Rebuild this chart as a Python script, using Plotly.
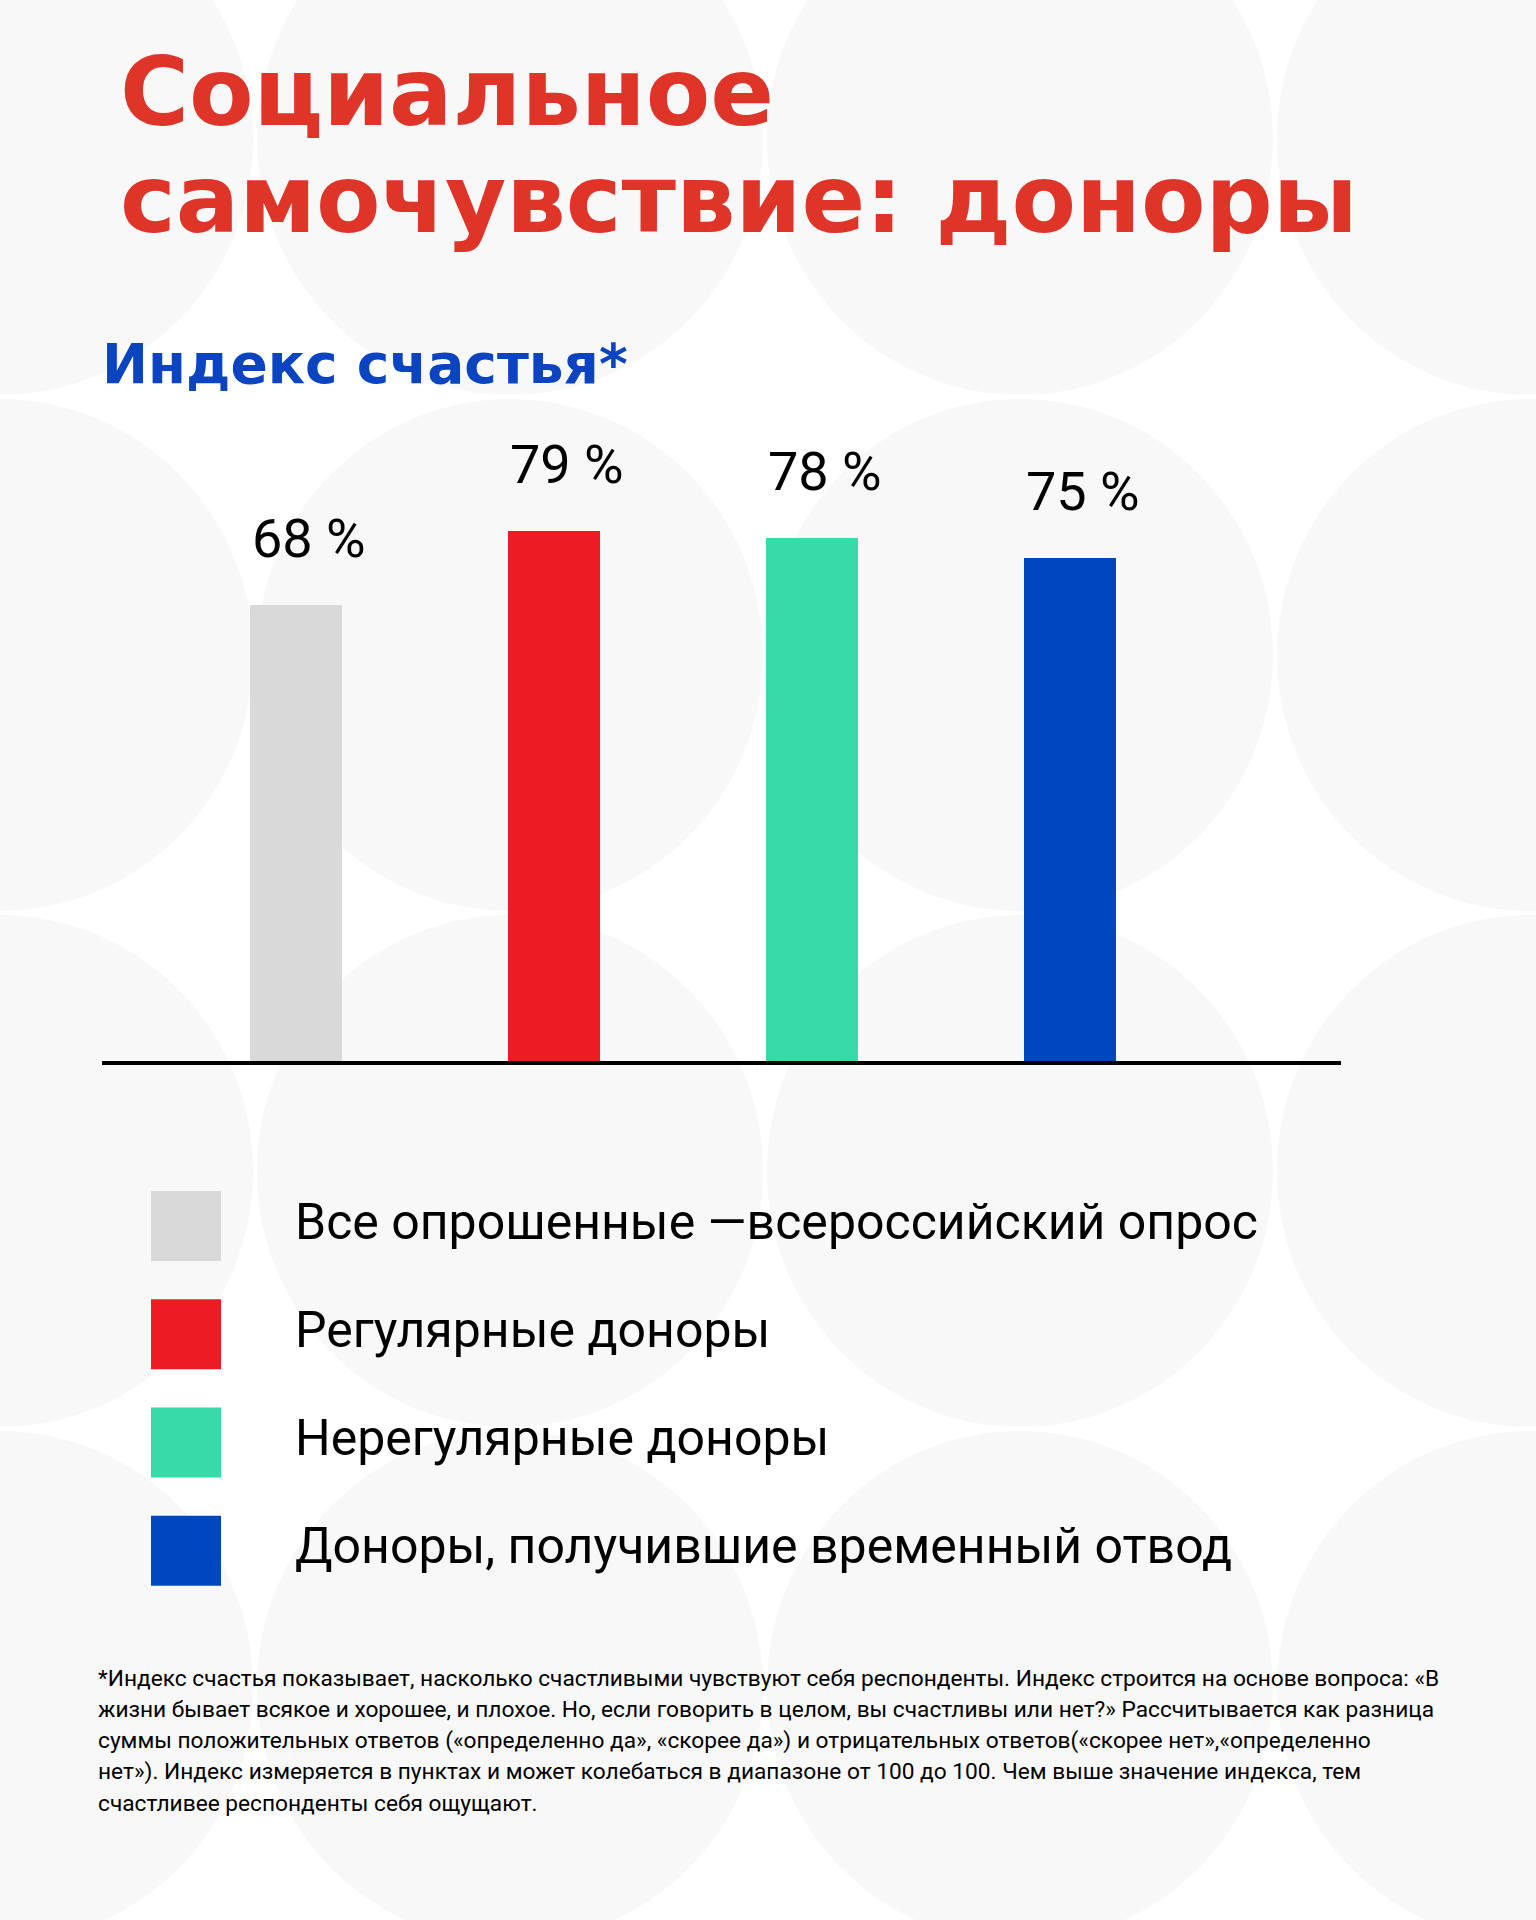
import plotly.graph_objects as go

# --- data ---
groups = [
    "Все опрошенные —всероссийский опрос",
    "Регулярные доноры",
    "Нерегулярные доноры",
    "Доноры, получившие временный отвод",
]
happiness_index = [68, 79, 78, 75]
bar_colors = ["#D9D9D9", "#ED1C24", "#36DBA8", "#0047BF"]

title_lines = ["Социальное", "самочувствие: доноры"]
subtitle = "Индекс счастья*"
footnote_lines = [
    "*Индекс счастья показывает, насколько счастливыми чувствуют себя респонденты. Индекс строится на основе вопроса: «В",
    "жизни бывает всякое и хорошее, и плохое. Но, если говорить в целом, вы счастливы или нет?» Рассчитывается как разница",
    "суммы положительных ответов («определенно да», «скорее да») и отрицательных ответов(«скорее нет»,«определенно",
    "нет»). Индекс измеряется в пунктах и может колебаться в диапазоне от 100 до 100. Чем выше значение индекса, тем",
    "счастливее респонденты себя ощущают.",
]

W, H = 1536, 1920
BODY_FONT = "Roboto"
HEAVY_FONT = "DejaVu Sans"

fig = go.Figure()

# bars
xs = list(range(len(groups)))
fig.add_trace(go.Bar(
    x=xs, y=happiness_index,
    marker=dict(color=bar_colors, line=dict(width=0)),
    width=0.356,
    hoverinfo="skip",
    showlegend=False,
))

# value labels above bars
for i, v in zip(xs, happiness_index):
    fig.add_annotation(
        x=i, y=v, xref="x", yref="y",
        text=f"{v} %", showarrow=False,
        yanchor="middle", yshift=66, xshift=13,
        font=dict(family=BODY_FONT, size=54, color="#000000"),
    )

# legend drawn as a second subplot: squares + labels
fig.add_trace(go.Scatter(
    x=[186 / W] * len(groups), y=groups,
    mode="markers",
    marker=dict(symbol="square", size=70, color=bar_colors, line=dict(width=0)),
    xaxis="x2", yaxis="y2", hoverinfo="skip", showlegend=False,
))
fig.add_trace(go.Scatter(
    x=[295 / W] * len(groups), y=groups,
    mode="text", text=groups, textposition="middle right",
    textfont=dict(family=BODY_FONT, size=50, color="#000000"),
    xaxis="x2", yaxis="y2", hoverinfo="skip", showlegend=False,
))

# title + subtitle
for k, line in enumerate(title_lines):
    fig.add_annotation(x=118 / W, y=1 - (92 + 108 * k) / H, xref="paper", yref="paper",
                       xanchor="left", yanchor="middle", showarrow=False,
                       text=f"<b>{line}</b>",
                       font=dict(family=HEAVY_FONT, size=94, color="#DF3529"))
fig.add_annotation(x=100 / W, y=1 - 364 / H, xref="paper", yref="paper",
                   xanchor="left", yanchor="middle", showarrow=False,
                   text=f"<b>{subtitle}</b>",
                   font=dict(family=HEAVY_FONT, size=55, color="#0B44C0"))

# footnote, one line at a time for tight spacing
for k, line in enumerate(footnote_lines):
    fig.add_annotation(x=96 / W, y=1 - (1678 + 31.3 * k) / H, xref="paper", yref="paper",
                       xanchor="left", yanchor="middle", showarrow=False,
                       text=line,
                       font=dict(family=BODY_FONT, size=22.7, color="#000000"))

# background: grid of nearly touching pale circles
shapes = []
RX, RY = 253, 256
for cx in [510 * i for i in range(0, 4)]:
    for cy in [139 + 516 * j for j in range(0, 4)]:
        shapes.append(dict(
            type="circle", xref="paper", yref="paper", layer="below",
            x0=(cx - RX) / W, x1=(cx + RX) / W,
            y0=1 - (cy + RY) / H, y1=1 - (cy - RY) / H,
            fillcolor="#F8F8F8", line=dict(width=0),
        ))

fig.update_layout(
    width=W, height=H,
    margin=dict(l=0, r=0, t=0, b=0),
    paper_bgcolor="#FFFFFF",
    plot_bgcolor="rgba(0,0,0,0)",
    shapes=shapes,
    bargap=0,
    xaxis=dict(domain=[102 / W, 1341 / W], range=[-0.75, 4.05],
               showgrid=False, zeroline=False, showticklabels=False, ticks="",
               showline=True, linecolor="#000000", linewidth=4, fixedrange=True),
    yaxis=dict(domain=[1 - 1061 / H, 1 - 390 / H], range=[0, 100],
               showgrid=False, zeroline=False, showticklabels=False, showline=False,
               fixedrange=True),
    xaxis2=dict(domain=[0, 1], range=[0, 1], anchor="y2", visible=False, fixedrange=True),
    yaxis2=dict(domain=[1 - 1605 / H, 1 - 1172 / H], range=[3.5, -0.5],
                type="category", categoryorder="array", categoryarray=groups,
                anchor="x2", visible=False, fixedrange=True),
)

# drop the browser's default page margin so the figure sits at 0,0
fig.write_html("out.html", config={"displayModeBar": False},
               post_script="document.body.style.margin = '0';")
